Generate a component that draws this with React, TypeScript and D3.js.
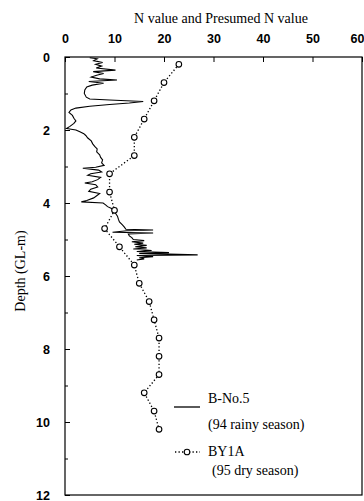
import React, { useRef, useEffect } from "react";
import * as d3 from "d3";

// B-No.5 (94 rainy season): [depth (m), N value]
const bNo5Depth = [
  0.02, 0.05, 0.1, 0.15, 0.2, 0.25, 0.3, 0.36, 0.4, 0.45, 0.5, 0.55, 0.6, 0.63, 0.67, 0.72, 0.77, 0.82, 0.9, 1.0,
  1.1, 1.15, 1.18, 1.22, 1.26, 1.3, 1.35, 1.4, 1.45, 1.52, 1.6, 1.68, 1.75, 1.82, 1.9, 1.96, 2.0, 2.05, 2.1, 2.15,
  2.22, 2.3, 2.38, 2.45, 2.52, 2.6, 2.68, 2.75, 2.82, 2.9, 2.97, 3.02, 3.05, 3.1, 3.15, 3.2, 3.24, 3.3, 3.36, 3.42,
  3.45, 3.5, 3.56, 3.62, 3.68, 3.74, 3.8, 3.86, 3.93, 3.97, 4.0, 4.05, 4.1, 4.15, 4.2, 4.28, 4.36, 4.45, 4.52, 4.6,
  4.66, 4.72, 4.74, 4.76, 4.8, 4.82, 4.85, 4.9, 4.95, 5.0, 5.03, 5.06, 5.1, 5.13, 5.16, 5.2, 5.23, 5.26, 5.3, 5.33,
  5.36, 5.38, 5.42, 5.44, 5.47, 5.5, 5.53, 5.56,
];
const bNo5Value = [
  5, 6.5, 5.8, 7.6, 6.2, 7.4, 6.3, 10.2, 5.7, 7.8, 6.4, 5.3, 7, 10.5, 4.8, 7.8, 5.5, 4.4, 4.0, 3.9,
  4.3, 5, 9, 15.8, 13, 9, 5, 2.2, 1.2, 0.8, 1.5, 1.8, 2.2, 1.8, 1.0, 0.3, 2.2, 3, 3.8, 4.2,
  4.6, 5.3, 5.6, 6.0, 6.5, 6.4, 7.0, 7.2, 7.6, 7.4, 7.9, 6.2, 3.6, 6.8, 7.4, 5.2, 4.6, 7.2, 6.6, 5.5,
  4.0, 6.2, 6.6, 5.2, 4.8, 7.0, 6.4, 5.8, 4.4, 3.3, 7.7, 8.2, 8.6, 9.4, 9.7, 10.2, 10.6, 10.8, 11, 11.6,
  12, 12.3, 17.8, 12.5, 9.6, 17.8, 12.8, 13, 13.5, 13.8, 16, 13.5, 15.8, 14, 16.5, 14.2, 16.5, 13.8, 17.5, 14.5,
  21, 15, 26.8, 14.5, 17.8, 15, 16, 14.5,
];

// BY1A (95 dry season): presumed N value
const by1aDepth = [0.2, 0.7, 1.2, 1.7, 2.2, 2.7, 3.2, 3.7, 4.2, 4.7, 5.2, 5.7, 6.2, 6.7, 7.2, 7.7, 8.2, 8.7, 9.2, 9.7, 10.2];
const by1aValue = [23, 20, 18, 16, 14, 14, 9, 9, 10, 8, 11, 14, 15, 17, 18, 19, 19, 19, 16, 18, 19];

const xTicks = [0, 10, 20, 30, 40, 50, 60];
const yTicks = [0, 2, 4, 6, 8, 10, 12];
const yMinorTicks = [1, 3, 5, 7, 9, 11];

const serif = "'Liberation Serif', 'Times New Roman', serif";
const sans = "'Liberation Sans', Arial, sans-serif";

const App = () => {
  const svgRef = useRef<SVGSVGElement>(null);

  useEffect(() => {
    if (!svgRef.current) return;
    const svg = d3.select(svgRef.current);
    svg.selectAll("*").remove();

    const margin = { top: 57, left: 65 };
    const width = 297;
    const height = 438;

    const x = d3.scaleLinear().domain([0, 60]).range([0, width]);
    const y = d3.scaleLinear().domain([0, 12]).range([0, height]);

    const g = svg.append("g").attr("transform", `translate(${margin.left},${margin.top})`);

    // titre et label de l'axe
    svg
      .append("text")
      .attr("x", 221)
      .attr("y", 23)
      .attr("text-anchor", "middle")
      .attr("font-family", serif)
      .attr("font-size", 14)
      .text("N value and Presumed N value");

    svg
      .append("text")
      .attr("transform", `translate(25,271) rotate(-90)`)
      .attr("text-anchor", "middle")
      .attr("font-family", serif)
      .attr("font-size", 14)
      .text("Depth (GL-m)");

    // cadre
    g.append("rect")
      .attr("width", width)
      .attr("height", height)
      .attr("fill", "none")
      .attr("stroke", "#000")
      .attr("stroke-width", 1.2);

    // axe du haut, ticks vers l'intérieur
    const xAxis = g
      .append("g")
      .attr("font-family", sans)
      .call(d3.axisTop(x).tickValues(xTicks).tickSize(-5).tickPadding(14).tickFormat(d3.format("d")));
    xAxis.attr("font-family", sans).attr("font-size", 12.5).attr("font-weight", "bold");
    xAxis.select(".domain").remove();
    xAxis.selectAll("text").attr("fill", "#000");
    // le dernier label est coupé dans l'original : on le garde dans la zone visible
    xAxis
      .selectAll<SVGTextElement, number>("text")
      .filter((d) => d === 60)
      .attr("text-anchor", "end")
      .attr("x", 364 - margin.left - width);

    // axe de gauche
    const yAxis = g
      .append("g")
      .call(d3.axisLeft(y).tickValues(yTicks).tickSize(-5).tickPadding(15).tickFormat(d3.format("d")));
    yAxis.attr("font-family", sans).attr("font-size", 12.5).attr("font-weight", "bold");
    yAxis.select(".domain").remove();
    yAxis.selectAll("text").attr("fill", "#000");

    g.append("g")
      .call(d3.axisLeft(y).tickValues(yMinorTicks).tickSize(-3).tickFormat(() => ""))
      .select(".domain")
      .remove();

    // ligne B-No.5
    const bNo5 = bNo5Depth.map((d, i) => [bNo5Value[i], d] as [number, number]);
    g.append("path")
      .datum(bNo5)
      .attr("d", d3.line<[number, number]>().x((d) => x(d[0])).y((d) => y(d[1])))
      .attr("fill", "none")
      .attr("stroke", "#000")
      .attr("stroke-width", 1.1);

    // BY1A pointillés + cercles
    const by1a = by1aDepth.map((d, i) => [by1aValue[i], d] as [number, number]);
    g.append("path")
      .datum(by1a)
      .attr("d", d3.line<[number, number]>().x((d) => x(d[0])).y((d) => y(d[1])))
      .attr("fill", "none")
      .attr("stroke", "#000")
      .attr("stroke-width", 1.3)
      .attr("stroke-dasharray", "1.3,2.2");

    g.selectAll(".by1a")
      .data(by1a)
      .enter()
      .append("circle")
      .attr("class", "by1a")
      .attr("cx", (d) => x(d[0]))
      .attr("cy", (d) => y(d[1]))
      .attr("r", 2.8)
      .attr("fill", "#fff")
      .attr("stroke", "#000")
      .attr("stroke-width", 1.1);

    // légende
    const legend = svg.append("g");
    legend
      .append("line")
      .attr("x1", 174)
      .attr("x2", 200)
      .attr("y1", 407)
      .attr("y2", 407)
      .attr("stroke", "#000")
      .attr("stroke-width", 1.3);
    legend
      .append("line")
      .attr("x1", 175)
      .attr("x2", 200)
      .attr("y1", 452)
      .attr("y2", 452)
      .attr("stroke", "#000")
      .attr("stroke-width", 1.3)
      .attr("stroke-dasharray", "1.3,2.2");
    legend
      .append("circle")
      .attr("cx", 187)
      .attr("cy", 452)
      .attr("r", 2.8)
      .attr("fill", "#fff")
      .attr("stroke", "#000")
      .attr("stroke-width", 1.1);

    const labels: [string, number, number][] = [
      ["B-No.5", 208, 403],
      ["(94 rainy season)", 208, 429],
      ["BY1A", 208, 456],
      ["(95 dry season)", 212, 475],
    ];
    legend
      .selectAll("text")
      .data(labels)
      .enter()
      .append("text")
      .attr("x", (d) => d[1])
      .attr("y", (d) => d[2])
      .attr("font-family", serif)
      .attr("font-size", 14)
      .text((d) => d[0]);
  }, []);

  return (
    <svg
      ref={svgRef}
      width={364}
      height={501}
      style={{ position: "absolute", left: 0, top: 0, background: "#fff" }}
    />
  );
};

export default App;
